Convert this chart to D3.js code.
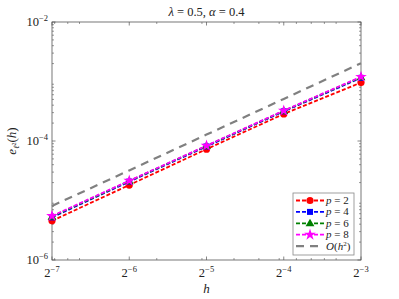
<!DOCTYPE html>
<html>
<head>
<meta charset="utf-8">
<script src="https://cdn.jsdelivr.net/npm/d3@7"></script>
<style>
  body { margin: 0; background: #fff; }
  text { font-family: "Liberation Serif", "DejaVu Serif", serif; fill: #222; }
</style>
</head>
<body>
<div id="chart"></div>
<script>
// data
const hVals = [1 / 128, 1 / 64, 1 / 32, 1 / 16, 1 / 8];
const xTickExp = [-7, -6, -5, -4, -3];
const yTickExp = [-6, -4, -2];
const errP2 = [4.55e-6, 1.82e-5, 7.3e-5, 2.85e-4, 9.6e-4];
const errP4 = [5.2e-6, 2.08e-5, 8.1e-5, 3.15e-4, 1.15e-3];
const errP6 = [5.35e-6, 2.12e-5, 8.25e-5, 3.2e-4, 1.18e-3];
const errP8 = [5.5e-6, 2.15e-5, 8.35e-5, 3.24e-4, 1.2e-3];
const refO2 = [8.1e-6, 3.2e-5, 1.28e-4, 5.1e-4, 2.03e-3];
const seriesNames = ["2", "4", "6", "8"];

const W = 399, H = 299;
const margin = { top: 22, right: 38, bottom: 39, left: 52 };

const svg = d3.select("#chart").append("svg").attr("width", W).attr("height", H);

const x = d3.scaleLog().base(2).domain([2 ** -7, 2 ** -3]).range([margin.left, W - margin.right]);
const y = d3.scaleLog().domain([1e-6, 1e-2]).range([H - margin.bottom, margin.top]);

const x0 = x.range()[0], x1 = x.range()[1];
const y0 = y.range()[0], y1 = y.range()[1];
const axisColor = "#555";

// minor ticks
const xMinor = [];
[0.001, 0.01, 0.1].forEach((dec) => {
  for (let k = 1; k <= 9; k++) {
    const v = dec * k;
    if (v >= 2 ** -7 && v <= 2 ** -3) xMinor.push(v);
  }
});
const yMinor = [];
for (let e = -6; e < -2; e++) {
  for (let k = 2; k <= 9; k++) yMinor.push(k * 10 ** e);
}

const g = svg.append("g");
xMinor.forEach((v) => {
  g.append("line").attr("x1", x(v)).attr("x2", x(v)).attr("y1", y0).attr("y2", y0 - 2).attr("stroke", axisColor).attr("stroke-width", 0.6);
  g.append("line").attr("x1", x(v)).attr("x2", x(v)).attr("y1", y1).attr("y2", y1 + 2).attr("stroke", axisColor).attr("stroke-width", 0.6);
});
xTickExp.forEach((e) => {
  const v = 2 ** e;
  g.append("line").attr("x1", x(v)).attr("x2", x(v)).attr("y1", y0).attr("y2", y0 - 3.5).attr("stroke", axisColor).attr("stroke-width", 0.7);
  g.append("line").attr("x1", x(v)).attr("x2", x(v)).attr("y1", y1).attr("y2", y1 + 3.5).attr("stroke", axisColor).attr("stroke-width", 0.7);
  const t = svg.append("text").attr("x", x(v)).attr("y", y0 + 17).attr("text-anchor", "middle").attr("font-size", 12.5);
  t.append("tspan").text("2");
  t.append("tspan").attr("dy", -5).attr("font-size", 8.5).text("\u2212" + -e);
});
yMinor.forEach((v) => {
  g.append("line").attr("x1", x0).attr("x2", x0 + 2).attr("y1", y(v)).attr("y2", y(v)).attr("stroke", axisColor).attr("stroke-width", 0.6);
  g.append("line").attr("x1", x1).attr("x2", x1 - 2).attr("y1", y(v)).attr("y2", y(v)).attr("stroke", axisColor).attr("stroke-width", 0.6);
});
yTickExp.forEach((e) => {
  const v = 10 ** e;
  g.append("line").attr("x1", x0).attr("x2", x0 + 3.5).attr("y1", y(v)).attr("y2", y(v)).attr("stroke", axisColor).attr("stroke-width", 0.7);
  g.append("line").attr("x1", x1).attr("x2", x1 - 3.5).attr("y1", y(v)).attr("y2", y(v)).attr("stroke", axisColor).attr("stroke-width", 0.7);
  const t = svg.append("text").attr("x", x0 - 4).attr("y", y(v) + 4).attr("text-anchor", "end").attr("font-size", 12.5);
  t.append("tspan").text("10");
  t.append("tspan").attr("dy", -5).attr("font-size", 8.5).text("\u2212" + -e);
});

svg.append("rect").attr("x", x0).attr("y", y1).attr("width", x1 - x0).attr("height", y0 - y1)
  .attr("fill", "none").attr("stroke", axisColor).attr("stroke-width", 0.8);

// series
const colors = ["#ff0000", "#0000ff", "#008000", "#ff00ff"];
const allErr = [errP2, errP4, errP6, errP8];
const line = d3.line().x((d) => x(d[0])).y((d) => y(d[1]));
const dash = "4,2";

const star = d3.symbol().type(d3.symbolStar);
function drawMarker(sel, i, cx, cy) {
  if (i === 0) {
    sel.append("circle").attr("cx", cx).attr("cy", cy).attr("r", 3.6).attr("fill", colors[i]);
  } else if (i === 1) {
    sel.append("rect").attr("x", cx - 3).attr("y", cy - 3).attr("width", 6).attr("height", 6).attr("fill", colors[i]);
  } else if (i === 2) {
    sel.append("path").attr("d", d3.symbol().type(d3.symbolTriangle).size(34)()).attr("transform", `translate(${cx},${cy + 0.5})`).attr("fill", colors[i]);
  } else {
    sel.append("path").attr("d", star.size(42)()).attr("transform", `translate(${cx},${cy})`).attr("fill", colors[i]);
  }
}

allErr.forEach((vals, i) => {
  const pts = hVals.map((h, j) => [h, vals[j]]);
  svg.append("path").attr("d", line(pts)).attr("fill", "none").attr("stroke", colors[i])
    .attr("stroke-width", 1.8).attr("stroke-dasharray", dash);
  const mg = svg.append("g");
  pts.forEach((p) => drawMarker(mg, i, x(p[0]), y(p[1])));
});

svg.append("path").attr("d", line(hVals.map((h, j) => [h, refO2[j]]))).attr("fill", "none")
  .attr("stroke", "#808080").attr("stroke-width", 2.2).attr("stroke-dasharray", "8,6");

// title and labels
const title = svg.append("text").attr("x", (x0 + x1) / 2).attr("y", 16).attr("text-anchor", "middle").attr("font-size", 12.5);
title.append("tspan").attr("font-style", "italic").text("\u03bb");
title.append("tspan").text(" = 0.5, ");
title.append("tspan").attr("font-style", "italic").text("\u03b1");
title.append("tspan").text(" = 0.4");

svg.append("text").attr("x", (x0 + x1) / 2).attr("y", 293).attr("text-anchor", "middle")
  .attr("font-size", 13).attr("font-style", "italic").text("h");

const yl = svg.append("text").attr("transform", `translate(16,${(y0 + y1) / 2}) rotate(-90)`)
  .attr("text-anchor", "middle").attr("font-size", 13);
yl.append("tspan").attr("font-style", "italic").text("e");
yl.append("tspan").attr("font-style", "italic").attr("dy", 3).attr("font-size", 8).text("\u2113");
yl.append("tspan").attr("dy", -3).attr("font-size", 6).text("2");
yl.append("tspan").attr("dy", 0).text("(");
yl.append("tspan").attr("font-style", "italic").text("h");
yl.append("tspan").text(")");

// legend
const lg = svg.append("g");
const lx = 293, ly = 193;
lg.append("rect").attr("x", lx).attr("y", ly).attr("width", 61).attr("height", 62)
  .attr("fill", "#fff").attr("stroke", "#888").attr("stroke-width", 0.8);
seriesNames.forEach((n, i) => {
  const cy = ly + 7.5 + i * 11.4;
  lg.append("line").attr("x1", lx + 3).attr("x2", lx + 31).attr("y1", cy).attr("y2", cy)
    .attr("stroke", colors[i]).attr("stroke-width", 1.8).attr("stroke-dasharray", dash);
  drawMarker(lg, i, lx + 17, cy);
  const t = lg.append("text").attr("x", lx + 33).attr("y", cy + 3.5).attr("font-size", 11);
  t.append("tspan").attr("font-style", "italic").text("p");
  t.append("tspan").text(" = " + n);
});
const cy5 = ly + 7.5 + 4 * 11.4;
lg.append("line").attr("x1", lx + 3).attr("x2", lx + 31).attr("y1", cy5).attr("y2", cy5)
  .attr("stroke", "#808080").attr("stroke-width", 2.2).attr("stroke-dasharray", "8,6");
const t5 = lg.append("text").attr("x", lx + 33).attr("y", cy5 + 3.5).attr("font-size", 11);
t5.append("tspan").attr("font-style", "italic").text("O");
t5.append("tspan").text("(");
t5.append("tspan").attr("font-style", "italic").text("h");
t5.append("tspan").attr("dy", -4).attr("font-size", 7).text("2");
t5.append("tspan").attr("dy", 4).text(")");
</script>
</body>
</html>
